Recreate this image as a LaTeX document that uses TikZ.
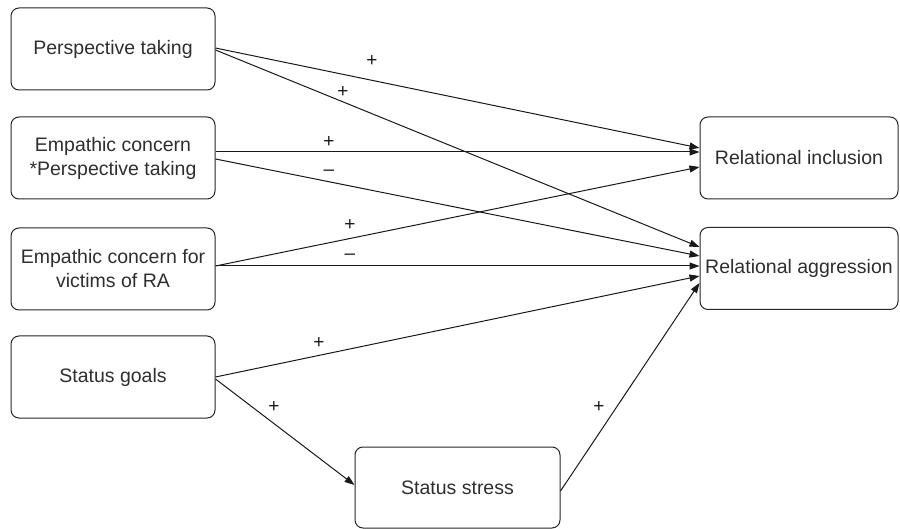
\documentclass[tikz,border=0pt]{standalone}
\usepackage{fontspec}
\setmainfont{Liberation Sans}
\usetikzlibrary{arrows.meta}
\begin{document}
\begin{tikzpicture}[x=1pt,y=-1pt,
  box/.style={draw=black!85,line width=1pt,rounded corners=8pt,align=center,
    font=\fontsize{19.5}{24}\selectfont,text=black!82,inner sep=0pt},
  lbox/.style={box,minimum width=204pt,minimum height=82pt},
  rbox/.style={box,minimum width=198pt,minimum height=82pt},
  conn/.style={draw=black!90,line width=1pt,-{Triangle[length=10pt,width=7pt]}},
  sign/.style={font=\fontsize{19}{19}\selectfont,text=black!90,inner sep=0pt}]
\useasboundingbox (0,0) rectangle (900,529);
\node[lbox] (pt) at (113,49) {Perspective taking};
\node[lbox] (ecpt) at (113,158) {Empathic concern\\*Perspective taking};
\node[lbox] (ecra) at (113,269) {Empathic concern for\\victims of RA};
\node[lbox] (sg) at (113,377) {Status goals};
\node[box,minimum width=205pt,minimum height=81pt] (ss) at (457.5,487.5) {Status stress};
\node[rbox] (ri) at (799,158) {Relational inclusion};
\node[rbox] (ra) at (799,268.5) {Relational aggression};
\draw[conn] ([yshift=1pt]pt.east) -- ([yshift=10pt]ri.west);
\draw[conn] ([yshift=-1pt]pt.east) -- ([yshift=21.5pt]ra.west);
\draw[conn] ([yshift=6pt]ecpt.east) -- ([yshift=6pt]ri.west);
\draw[conn] ([yshift=-1pt]ecpt.east) -- ([yshift=12.5pt]ra.west);
\draw[conn] ([yshift=3pt]ecra.east) -- ([yshift=-9pt]ri.west);
\draw[conn] ([yshift=3pt]ecra.east) -- ([yshift=2.5pt]ra.west);
\draw[conn] (sg.east) -- ([yshift=-7.5pt]ra.west);
\draw[conn] ([yshift=-2pt]sg.east) -- ([yshift=2.5pt]ss.west);
\draw[conn] ([yshift=-3.5pt]ss.east) -- ([yshift=-14.5pt]ra.west);
\node[sign] (s1) at (372,61) {+};
\node[sign] (s2) at (343,92) {+};
\node[sign] (s3) at (329,142) {+};
\node[sign] (s4) at (329,173) {–};
\node[sign] (s5) at (350,225) {+};
\node[sign] (s6) at (350,257) {–};
\node[sign] (s7) at (319,343) {+};
\node[sign] (s8) at (274,407) {+};
\node[sign] (s9) at (599,407) {+};
\end{tikzpicture}
\end{document}
